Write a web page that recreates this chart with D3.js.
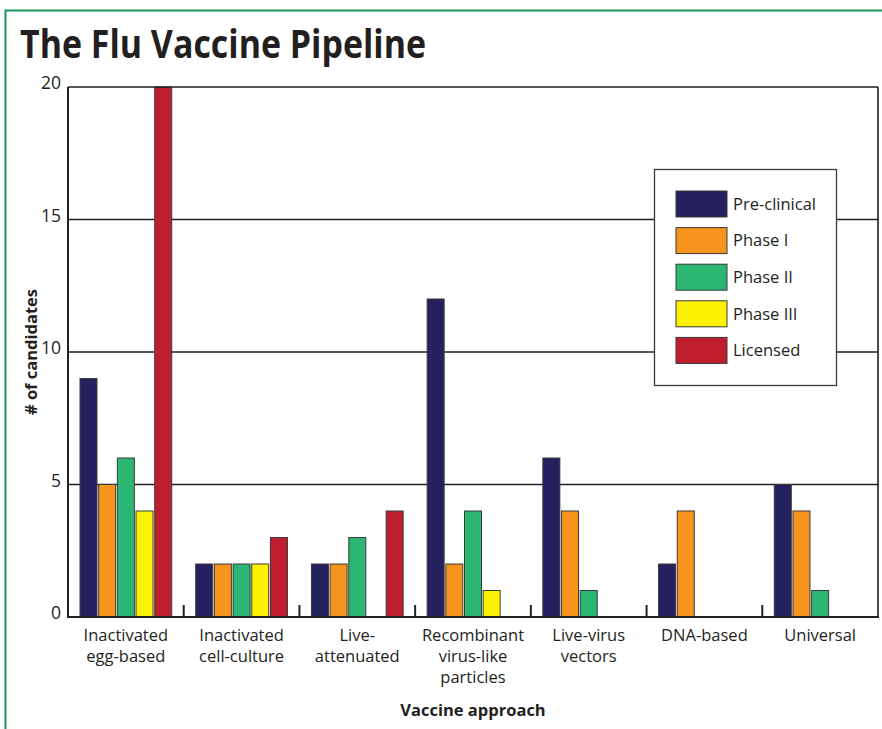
<!DOCTYPE html>
<html><head><meta charset="utf-8">
<script src="https://cdn.jsdelivr.net/npm/d3@7"></script>
<style>html,body{margin:0;padding:0;background:#fff;}svg{display:block;}</style>
</head><body>
<script>
const categories = [
  ["Inactivated","egg-based"],
  ["Inactivated","cell-culture"],
  ["Live-","attenuated"],
  ["Recombinant","virus-like","particles"],
  ["Live-virus","vectors"],
  ["DNA-based"],
  ["Universal"]
];
const seriesNames = ["Pre-clinical","Phase I","Phase II","Phase III","Licensed"];
const preclinical = [9, 2, 2, 12, 6, 2, 5];
const phase1      = [5, 2, 2, 2, 4, 4, 4];
const phase2      = [6, 2, 3, 4, 1, 0, 1];
const phase3      = [4, 2, 0, 1, 0, 0, 0];
const licensed    = [20, 3, 4, 0, 0, 0, 0];
const yTicks = [0, 5, 10, 15, 20];
const colors = ["#25215f", "#f7941d", "#2bb673", "#fff200", "#be1e2d"];

const series = [preclinical, phase1, phase2, phase3, licensed];
const W = 882, H = 729;
const font = "'Open Sans', 'Liberation Sans', sans-serif";
const svg = d3.select("body").append("svg").attr("width", W).attr("height", H);

// frame
svg.append("rect").attr("x", 5.5).attr("y", 10.5).attr("width", W + 10).attr("height", H + 10)
  .attr("fill", "none").attr("stroke", "#1a9550").attr("stroke-width", 2);

// title
svg.append("text").attr("x", 20).attr("y", 58)
  .attr("font-family", font).attr("font-weight", 700).attr("font-size", 40)
  .attr("textLength", 406).attr("lengthAdjust", "spacingAndGlyphs")
  .attr("fill", "#231f20").text("The Flu Vaccine Pipeline");

const x0 = 68, x1 = 878, yTop = 87, yBot = 617;
const x = d3.scaleBand().domain(d3.range(categories.length)).range([x0, x1]).paddingInner(0).paddingOuter(0);
const xs = d3.scaleBand().domain(d3.range(seriesNames.length)).range([12, x.bandwidth() - 12]).paddingInner(0.09).paddingOuter(0);
const y = d3.scaleLinear().domain([0, 20]).range([yBot, yTop]);

const ink = "#231f20";
// gridlines
svg.append("g").selectAll("line").data(yTicks.filter(d => d > 0 && d < 20)).join("line")
  .attr("x1", x0).attr("x2", x1).attr("y1", d => y(d)).attr("y2", d => y(d))
  .attr("stroke", ink).attr("stroke-width", 1.6);

// bars
const g = svg.append("g");
categories.forEach((c, i) => {
  series.forEach((s, j) => {
    if (s[i] <= 0) return;
    g.append("rect")
      .attr("x", x(i) + xs(j)).attr("width", xs.bandwidth())
      .attr("y", y(s[i])).attr("height", y(0) - y(s[i]))
      .attr("fill", colors[j]).attr("stroke", "#3a3a3a").attr("stroke-width", 1);
  });
});

// frame lines of plot
svg.append("line").attr("x1", x0).attr("x2", x1).attr("y1", yTop).attr("y2", yTop).attr("stroke", ink).attr("stroke-width", 1.6);
svg.append("line").attr("x1", x1).attr("x2", x1).attr("y1", yTop).attr("y2", yBot).attr("stroke", ink).attr("stroke-width", 1.6);
svg.append("line").attr("x1", x0).attr("x2", x0).attr("y1", yTop).attr("y2", yBot + 1).attr("stroke", ink).attr("stroke-width", 2);
svg.append("line").attr("x1", x0 - 1).attr("x2", x1 + 1).attr("y1", yBot).attr("y2", yBot).attr("stroke", ink).attr("stroke-width", 2);

// category separator ticks
svg.append("g").selectAll("line").data(d3.range(1, categories.length)).join("line")
  .attr("x1", d => x(d)).attr("x2", d => x(d)).attr("y1", yBot).attr("y2", yBot - 12)
  .attr("stroke", ink).attr("stroke-width", 2);

// y tick labels
svg.append("g").selectAll("text").data(yTicks).join("text")
  .attr("x", 61).attr("y", d => y(d)).attr("dy", "0.12em")
  .attr("text-anchor", "end").attr("font-family", font).attr("font-size", 17.5)
  .attr("fill", ink).text(d => d);

// x category labels
categories.forEach((c, i) => {
  const t = svg.append("text").attr("x", x(i) + x.bandwidth() / 2).attr("y", 640)
    .attr("text-anchor", "middle").attr("font-family", font).attr("font-size", 16.5).attr("fill", ink);
  c.forEach((line, k) => {
    t.append("tspan").attr("x", x(i) + x.bandwidth() / 2).attr("y", 641 + k * 21).text(line);
  });
});

// axis titles
svg.append("text").attr("x", (x0 + x1) / 2).attr("y", 716).attr("text-anchor", "middle")
  .attr("font-family", font).attr("font-weight", 700).attr("font-size", 16.5).attr("fill", ink)
  .text("Vaccine approach");
svg.append("text").attr("transform", `translate(37,${(yTop + yBot) / 2}) rotate(-90)`)
  .attr("text-anchor", "middle")
  .attr("font-family", font).attr("font-weight", 700).attr("font-size", 16.5).attr("fill", ink)
  .text("# of candidates");

// legend
const lg = svg.append("g");
lg.append("rect").attr("x", 654.5).attr("y", 169.5).attr("width", 182).attr("height", 216)
  .attr("fill", "#fff").attr("stroke", "#3a3a3a").attr("stroke-width", 1.3);
seriesNames.forEach((n, j) => {
  const yy = 191 + j * 36.6;
  lg.append("rect").attr("x", 676).attr("y", yy).attr("width", 51).attr("height", 26)
    .attr("fill", colors[j]).attr("stroke", "#3a3a3a").attr("stroke-width", 1);
  lg.append("text").attr("x", 733).attr("y", yy + 13).attr("dy", "0.35em")
    .attr("font-family", font).attr("font-size", 16.5).attr("fill", ink).text(n);
});
</script>
</body></html>
